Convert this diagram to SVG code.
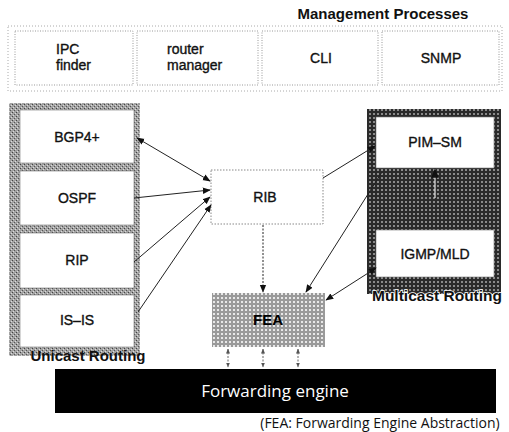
<svg xmlns="http://www.w3.org/2000/svg" width="509" height="432" viewBox="0 0 509 432">
<defs>
<pattern id="stip" width="4" height="4" patternUnits="userSpaceOnUse">
<rect width="4" height="4" fill="#a2a2a2"/>
<rect x="0" y="0" width="1" height="1" fill="#444"/>
<rect x="2" y="2" width="1" height="1" fill="#555"/>
<rect x="1" y="3" width="1" height="1" fill="#dcdcdc"/>
<rect x="3" y="1" width="1" height="1" fill="#dcdcdc"/>
</pattern>
<pattern id="darkx" width="4" height="4" patternUnits="userSpaceOnUse">
<rect width="4" height="4" fill="#2a2a2a"/>
<rect x="1" y="1" width="2" height="2" fill="#8a8a8a"/>
</pattern>
<pattern id="lightx" width="4" height="4" patternUnits="userSpaceOnUse">
<rect width="4" height="4" fill="#9a9a9a"/>
<rect x="1" y="1" width="2" height="2" fill="#e8e8e8"/>
</pattern>
<marker id="ah" viewBox="0 0 10 10" refX="9" refY="5" markerWidth="8" markerHeight="8" orient="auto-start-reverse">
<path d="M0,1 L10,5 L0,9 z" fill="#111"/>
</marker>
<marker id="ahs" viewBox="0 0 10 10" refX="9" refY="5" markerWidth="5" markerHeight="5" orient="auto-start-reverse">
<path d="M0,1 L10,5 L0,9 z" fill="#555"/>
</marker>
</defs>
<style>
.t{font-family:"Liberation Sans",Arial,sans-serif;fill:#111;text-anchor:middle}
.n{font-size:14px;stroke:#111;stroke-width:0.35}
.b{font-size:15px;font-weight:bold}
.mgmt{fill:#fff;stroke:#999;stroke-width:1;stroke-dasharray:1 1.5}
.wb{fill:#fff;stroke:#777;stroke-width:0.6}
.c{stroke:#222;stroke-width:1;fill:none}
.s{text-anchor:start}
</style>

<g id="management">
<rect x="8" y="26" width="494" height="65" fill="#fff" stroke="#aaa" stroke-dasharray="1 2"/>
<text class="t b" x="383" y="19">Management Processes</text>
</g>
<g id="ipc"><rect class="mgmt" x="15" y="31" width="118" height="54"/>
<text class="t n"><tspan class="s" x="56" y="54">IPC</tspan><tspan class="s" x="56" dy="16">finder</tspan></text></g>
<g id="rtrmgr"><rect class="mgmt" x="137" y="31" width="121" height="54"/>
<text class="t n"><tspan class="s" x="167" y="54">router</tspan><tspan class="s" x="167" dy="16">manager</tspan></text></g>
<g id="cli"><rect class="mgmt" x="262" y="31" width="116" height="54"/>
<text class="t n" x="321" y="63">CLI</text></g>
<g id="snmp"><rect class="mgmt" x="382" y="31" width="117" height="54"/>
<text class="t n" x="441" y="63">SNMP</text></g>

<g id="unicast">
<rect x="9" y="103" width="131" height="253" fill="url(#stip)"/>
<text class="t b" x="88" y="361">Unicast Routing</text>
</g>
<g id="bgp"><rect class="wb" x="20" y="110" width="114" height="53"/><text class="t n" x="77" y="142">BGP4+</text></g>
<g id="ospf"><rect class="wb" x="20" y="171" width="114" height="54"/><text class="t n" x="77" y="203">OSPF</text></g>
<g id="rip"><rect class="wb" x="20" y="233" width="114" height="55"/><text class="t n" x="77" y="265">RIP</text></g>
<g id="isis"><rect class="wb" x="20" y="295" width="114" height="52"/><text class="t n" x="77" y="325">IS–IS</text></g>

<g id="rib"><rect x="211" y="170" width="112" height="54" fill="#fff" stroke="#888" stroke-dasharray="1.5 1.5"/>
<text class="t n" x="265" y="202">RIB</text></g>

<g id="multicast">
<rect x="367" y="109" width="134" height="185" fill="url(#darkx)"/>
<text class="t b" x="437" y="301" style="font-size:15.5px" stroke="#fff" stroke-width="1.5" paint-order="stroke">Multicast Routing</text>
</g>
<g id="pimsm"><rect class="wb" x="376" y="117" width="118" height="51"/><text class="t n" x="435" y="147">PIM–SM</text></g>
<g id="igmp"><rect class="wb" x="376" y="230" width="118" height="47"/><text class="t n" x="435" y="259">IGMP/MLD</text></g>

<g id="fea"><rect x="212" y="293" width="113" height="54" fill="url(#lightx)"/>
<text class="t b" x="268" y="325" style="fill:#000">FEA</text></g>

<g id="fwd"><rect x="55" y="369" width="441" height="44" fill="#000"/>
<text x="275" y="397" style="font-family:'Open Sans','Noto Sans',sans-serif;font-size:17px;fill:#fff;text-anchor:middle">Forwarding engine</text></g>

<g id="caption"><text x="380" y="428" style="font-family:'Open Sans','Noto Sans',sans-serif;font-size:14px;fill:#111;text-anchor:middle">(FEA: Forwarding Engine Abstraction)</text></g>

<g id="connectors">
<line class="c" x1="137" y1="138" x2="210" y2="181" marker-start="url(#ah)" marker-end="url(#ah)"/>
<line class="c" x1="134" y1="198" x2="210" y2="190" marker-end="url(#ah)"/>
<line class="c" x1="134" y1="262" x2="210" y2="197" marker-end="url(#ah)"/>
<line class="c" x1="138" y1="312" x2="211" y2="205" marker-end="url(#ah)"/>
<line class="c" x1="263" y1="225" x2="263" y2="292" stroke-dasharray="2 1.5" marker-end="url(#ah)"/>
<line class="c" x1="323" y1="178" x2="375" y2="146" marker-end="url(#ah)"/>
<line class="c" x1="382" y1="172" x2="306" y2="292" marker-end="url(#ah)"/>
<line class="c" x1="376" y1="268" x2="326" y2="300" marker-start="url(#ah)" marker-end="url(#ah)"/>
<line x1="435" y1="198" x2="435" y2="169" stroke="#e6e6e6" stroke-width="1.2" marker-end="url(#ah)"/>
<line x1="228" y1="349" x2="228" y2="367" stroke="#666" stroke-dasharray="2 1.5" marker-start="url(#ahs)" marker-end="url(#ahs)"/>
<line x1="263" y1="349" x2="263" y2="367" stroke="#666" stroke-dasharray="2 1.5" marker-start="url(#ahs)" marker-end="url(#ahs)"/>
<line x1="298" y1="349" x2="298" y2="367" stroke="#666" stroke-dasharray="2 1.5" marker-start="url(#ahs)" marker-end="url(#ahs)"/>
</g>
</svg>
